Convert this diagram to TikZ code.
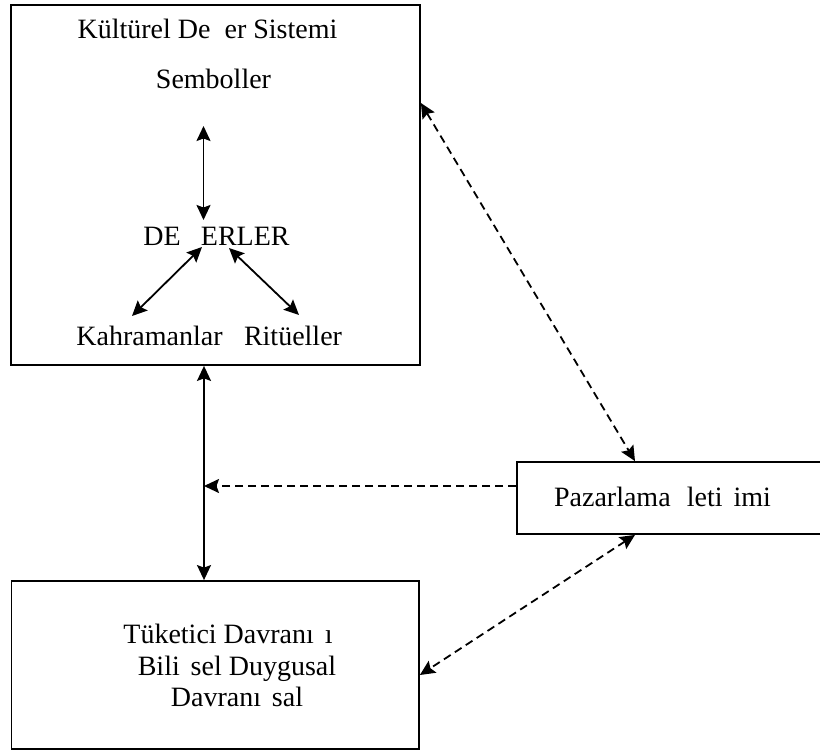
\documentclass[tikz,border=0pt]{standalone}
\usepackage{fontspec}
\setmainfont{Liberation Serif}
\usetikzlibrary{arrows.meta,calc}
\begin{document}
\begin{tikzpicture}[x=1pt,y=-1pt,
  >={Stealth[length=15pt,width=14pt,inset=2.5pt]},
  box/.style={draw,line width=1.8pt,inner sep=0pt},
  lbl/.style={inner sep=0pt,anchor=base,font=\fontsize{28}{32}\selectfont},
  conn/.style={line width=1.8pt,<->},
  dconn/.style={line width=1.8pt,<->,dash pattern=on 8pt off 5pt},
  dconnr/.style={line width=1.8pt,->,dash pattern=on 8pt off 5pt},
]
\clip (0,0) rectangle (820,750);
\fill[white] (0,0) rectangle (820,750);
% boxes
\node[box,minimum width=409pt,minimum height=360pt] (cult) at (215.5,185) {};
\node[box,minimum width=407.5pt,minimum height=168pt] (cons) at (215.25,665) {};
\node[box,minimum width=360pt,minimum height=72pt] (paz) at (697,498) {};
% texts
\node[lbl] (t1) at (207.5,38) {Kültürel De\hspace{0.5em}er Sistemi};
\node[lbl] (semb) at (213.5,88) {Semboller};
\node[lbl] (deg) at (216.5,245) {DE\hspace{0.72em}ERLER};
\node[lbl] (kah) at (149.5,345) {Kahramanlar};
\node[lbl] (rit) at (293,345) {Ritüeller};
\node[lbl] (pazt) at (662.5,506) {Pazarlama \hspace{0.33em}leti\hspace{0.39em}imi};
\node[lbl] (c1) at (228,643) {Tüketici Davranı\hspace{0.39em}ı};
\node[lbl] (c2) at (237,675) {Bili\hspace{0.39em}sel Duygusal};
\node[lbl] (c3) at (237,706) {Davranı\hspace{0.39em}sal};
% helper coordinates
\coordinate (sA) at (203.5,126);
\coordinate (dA) at (203.5,220);
\coordinate (dL) at (202,247);
\coordinate (kL) at (132,316);
\coordinate (dR) at (229,248);
\coordinate (rR) at (299,315);
\coordinate (vx) at (204,0);
\coordinate (y103) at (0,103);
\coordinate (x635) at (635,0);
\coordinate (y486) at (0,486);
\coordinate (y675) at (0,675);
% connectors inside the culture box
\draw[conn] (sA) -- (dA);
\draw[conn] (dL) -- (kL);
\draw[conn] (dR) -- (rR);
% main connectors
\draw[conn] (cult.south -| vx) -- (cons.north -| vx);
\draw[dconn] (cult.east |- y103) -- (paz.north -| x635);
\draw[dconnr] (paz.west |- y486) -- (vx |- y486);
\draw[dconn] (paz.south -| x635) -- (cons.east |- y675);
\end{tikzpicture}
\end{document}
